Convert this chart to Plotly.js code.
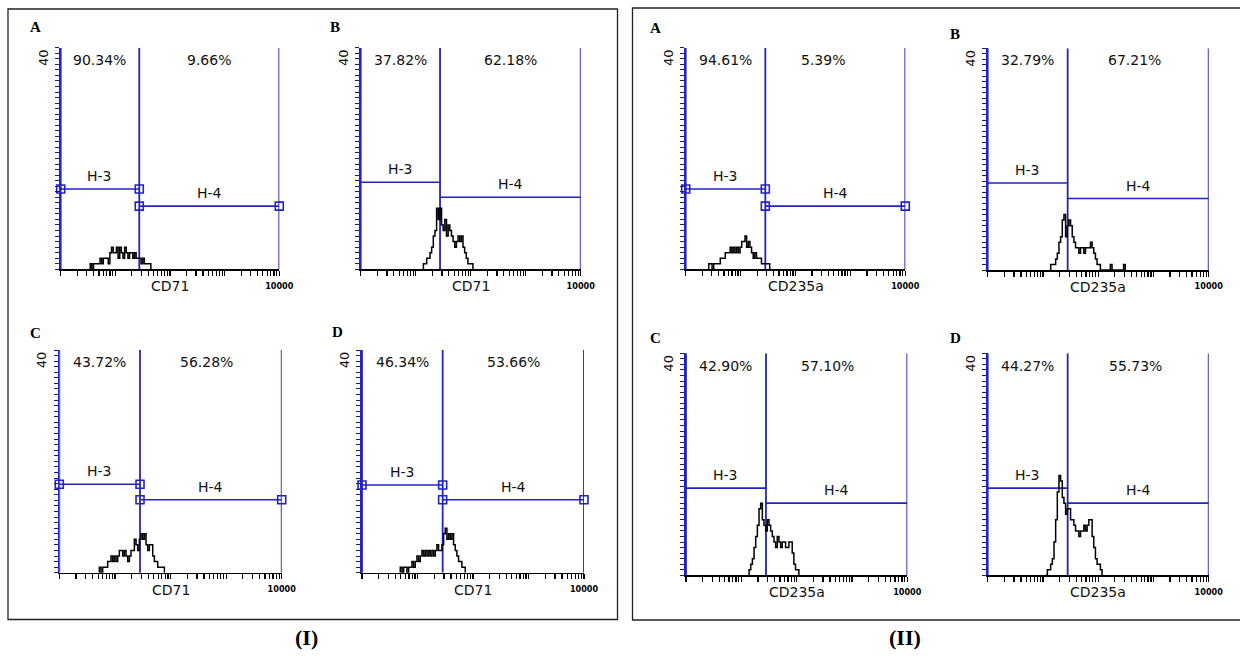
<!DOCTYPE html>
<html><head><meta charset="utf-8">
<script src="https://cdn.plot.ly/plotly-3.0.1.min.js"></script>
<style>html,body{margin:0;padding:0;background:#fff;}#chart{width:1240px;height:661px;}</style>
</head><body><div id="chart"></div>
<script>
// ---------- data ----------
const panelLetters = ['A','B','C','D','A','B','C','D'];
const markerNames = ['CD71','CD71','CD71','CD71','CD235a','CD235a','CD235a','CD235a'];
const groupLabels = ['(I)','(II)'];
const leftPercents = ['90.34%','37.82%','43.72%','46.34%','94.61%','32.79%','42.90%','44.27%'];
const rightPercents = ['9.66%','62.18%','56.28%','53.66%','5.39%','67.21%','57.10%','55.73%'];
const gateNames = ['H-3','H-4'];
const gateSplit = [27.4,27.7,28.3,28.4,28.2,28.0,27.9,28.0];   // fluorescence boundary between H-3 and H-4
const gateH3 = [14.5,15.7,15.9,15.75,14.5,15.7,15.7,15.7];      // marker bar heights (counts)
const gateH4 = [11.4,13.0,13.1,13.1,11.4,12.9,13.0,13.0];
const gateHandles = [true,false,true,true,true,false,false,false];
const xMin = 1, xMax = 10000, yMax = 40;
const xEndLabel = '10000';
const yTopLabel = '40';
// histogram: first bin (log10 fluorescence) and counts per bin
const binWidthLog = 0.03;
const binStartLog = [0.54,1.14,0.72,0.69,0.42,1.14,1.14,1.05];
const countsIA = [1,0,1,1,1,1,2,1,2,2,2,1,3,4,3,3,4,2,4,3,2,4,3,2,3,3,2,3,2,2,2,1,2,1,1,1,1];
const countsIB = [1,1,2,2,3,4,6,7,11,9,11,8,7,9,6,8,7,6,5,4,5,6,5,6,4,3,2,1,1,1];
const countsIC = [1,0,1,1,1,2,2,3,2,3,2,3,4,4,3,4,3,2,3,4,4,6,5,4,6,7,6,7,5,4,5,5,3,2,2,1,1,1,1];
const countsID = [1,0,1,1,0,1,1,2,1,2,3,2,3,4,3,4,3,4,3,4,3,4,5,4,4,5,7,8,6,7,6,7,5,4,3,2,2,1,1];
const countsIIA = [1,1,0,1,1,1,1,2,2,2,3,3,3,4,3,4,3,4,3,4,5,5,6,4,5,4,3,2,3,2,2,2,1,1,1,1,1];
const countsIIB = [1,1,1,2,3,5,6,9,10,6,8,9,8,6,5,4,4,3,4,4,3,4,4,4,5,4,3,2,1,1,0,0,0,0,0,0,1,0,0,0,0,0,0,0,1];
const countsIIC = [1,2,3,5,7,9,12,13,10,9,8,10,9,8,7,6,5,7,6,5,6,6,5,5,6,6,4,2,1,1];
const countsIID = [0,1,1,2,3,6,10,15,18,17,14,13,11,12,12,10,10,9,8,8,7,8,8,9,8,9,10,10,7,5,3,2,2,1];
const allCounts = [countsIA,countsIB,countsIC,countsID,countsIIA,countsIIB,countsIIC,countsIID];

// ---------- layout geometry (pixels) ----------
const W = 1240, H = 661;
const boxes = [
  [60.7,279.3,47.7,269.3],[360.7,580.7,47.7,269.3],
  [59.3,281.7,350,572.7],[362,584,350,572.7],
  [685.7,905.3,47.7,269.3],[987.7,1208.7,48.3,270],
  [686,907.3,353.3,575.3],[987.7,1208.7,353.3,575.3]
];
const rightTextShift = [0,0,-4,0,-12,-4,-9,-3];
const letterPos = [[35,27],[335,27],[35,333],[337,332],[655,28],[955,34],[655,338],[955,338]];
const groupPos = [[306,637],[905,637]];
const BLUE = '#2222c8';
const px = v => v / W, py = v => 1 - v / H;

const traces = [], annotations = [], shapes = [];
const layout = {
  width: W, height: H, margin: {l:0,r:0,t:0,b:0},
  paper_bgcolor: '#fff', plot_bgcolor: 'rgba(0,0,0,0)',
  showlegend: false, hovermode: false,
  font: {family: 'DejaVu Sans, sans-serif', color: '#111'}
};

const yTickVals = [], yTickText = [];
for (let v = 0; v <= yMax; v++) { yTickVals.push(v); yTickText.push(v === yMax ? yTopLabel : ''); }
const xTickVals = [], xTickText = [];
for (let e = 0; e < 4; e++) for (let m = 1; m <= 9; m++) { xTickVals.push(m * Math.pow(10, e)); xTickText.push(''); }
xTickVals.push(xMax); xTickText.push(xEndLabel);

function txt(o) { return Object.assign({showarrow: false, xanchor: 'center', yanchor: 'middle'}, o); }

for (let i = 0; i < 8; i++) {
  const n = i + 1, xa = 'x' + n, ya = 'y' + n;
  const xk = 'xaxis' + (n === 1 ? '' : n), yk = 'yaxis' + (n === 1 ? '' : n);
  const b = boxes[i];
  layout[xk] = {
    domain: [px(b[0]), px(b[1])], anchor: ya, type: 'log', range: [0, 4],
    showgrid: false, zeroline: false, showline: true, linecolor: '#000', linewidth: 1.5,
    ticks: 'outside', ticklen: 5, tickwidth: 1.2, tickcolor: '#000',
    tickmode: 'array', tickvals: xTickVals, ticktext: xTickText,
    tickfont: {size: 9, color: '#000', family: 'DejaVu Sans Condensed, DejaVu Sans', weight: 'bold'},
    ticklabelstandoff: 2, fixedrange: true
  };
  layout[yk] = {
    domain: [py(b[3]), py(b[2])], anchor: xa, range: [0, yMax],
    showgrid: false, zeroline: false, showline: true, linecolor: BLUE, linewidth: 1.8,
    ticks: 'outside', ticklen: 4, tickwidth: 1, tickcolor: '#1c1c70',
    tickmode: 'array', tickvals: yTickVals, ticktext: yTickText, tickangle: -90,
    ticklabelshift: 12, ticklabelstandoff: 2,
    tickfont: {size: 13, color: '#111'}, fixedrange: true
  };
  const g = gateSplit[i];
  // marker region boundaries
  traces.push({type:'scatter', mode:'lines', xaxis: xa, yaxis: ya, cliponaxis: false,
    x: [xMin, xMin, null, g, g, null, xMax, xMax], y: [0, yMax, null, 0, yMax, null, 0, yMax],
    line: {color: BLUE, width: 1.8}});
  const mk = gateHandles[i] ? 'lines+markers' : 'lines';
  const mkStyle = {symbol: 'square-open', size: 8, color: BLUE, line: {width: 1.6, color: BLUE}};
  traces.push({type:'scatter', mode: mk, xaxis: xa, yaxis: ya, cliponaxis: false,
    x: [xMin, g], y: [gateH3[i], gateH3[i]], line: {color: BLUE, width: 1.6}, marker: mkStyle});
  traces.push({type:'scatter', mode: mk, xaxis: xa, yaxis: ya, cliponaxis: false,
    x: [g, xMax], y: [gateH4[i], gateH4[i]], line: {color: BLUE, width: 1.6}, marker: mkStyle});
  // histogram
  const c = allCounts[i], hx = [], hy = [];
  hx.push(Math.pow(10, binStartLog[i])); hy.push(0);
  for (let k = 0; k < c.length; k++) { hx.push(Math.pow(10, binStartLog[i] + k * binWidthLog)); hy.push(c[k]); }
  hx.push(Math.pow(10, binStartLog[i] + c.length * binWidthLog)); hy.push(0);
  traces.push({type:'scatter', mode:'lines', xaxis: xa, yaxis: ya, x: hx, y: hy,
    line: {color: '#000', width: 1.5, shape: 'hv'}});
  // texts
  const midL = 0.5 * Math.log10(g), midR = 0.5 * (Math.log10(g) + 4);
  annotations.push(txt({xref: xa, yref: ya + ' domain', x: midL, y: 0.945, text: leftPercents[i], font: {size: 14}}));
  annotations.push(txt({xref: xa, yref: ya + ' domain', x: midR, y: 0.945, xshift: rightTextShift[i], text: rightPercents[i], font: {size: 14}}));
  annotations.push(txt({xref: xa, yref: ya, x: midL, y: gateH3[i], yshift: 13, text: gateNames[0], font: {size: 14}}));
  annotations.push(txt({xref: xa, yref: ya, x: midR, y: gateH4[i], yshift: 13, text: gateNames[1], font: {size: 14}}));
  annotations.push(txt({xref: xa + ' domain', yref: ya + ' domain', x: 0.5, y: 0, yshift: -17,
    text: markerNames[i], font: {size: 14}}));
  annotations.push(txt({xref: 'paper', yref: 'paper', x: px(letterPos[i][0]), y: py(letterPos[i][1]),
    text: '<b>' + panelLetters[i] + '</b>',
    font: {size: 15, family: 'Liberation Serif, DejaVu Serif, serif', color: '#000'}}));
}
for (let j = 0; j < 2; j++) {
  annotations.push(txt({xref: 'paper', yref: 'paper', x: px(groupPos[j][0]), y: py(groupPos[j][1]),
    text: '<b>' + groupLabels[j] + '</b>',
    font: {size: 22, family: 'Liberation Serif, DejaVu Serif, serif', color: '#000'}}));
}
shapes.push({type:'rect', xref:'paper', yref:'paper', x0: px(8), x1: px(617.5), y0: py(619.5), y1: py(9),
  line: {color: '#222', width: 1.3}, layer: 'below'});
shapes.push({type:'rect', xref:'paper', yref:'paper', x0: px(632.5), x1: px(1250), y0: py(620), y1: py(8),
  line: {color: '#222', width: 1.3}, layer: 'below'});
layout.annotations = annotations;
layout.shapes = shapes;
Plotly.newPlot('chart', traces, layout, {staticPlot: true, displayModeBar: false});
</script></body></html>
